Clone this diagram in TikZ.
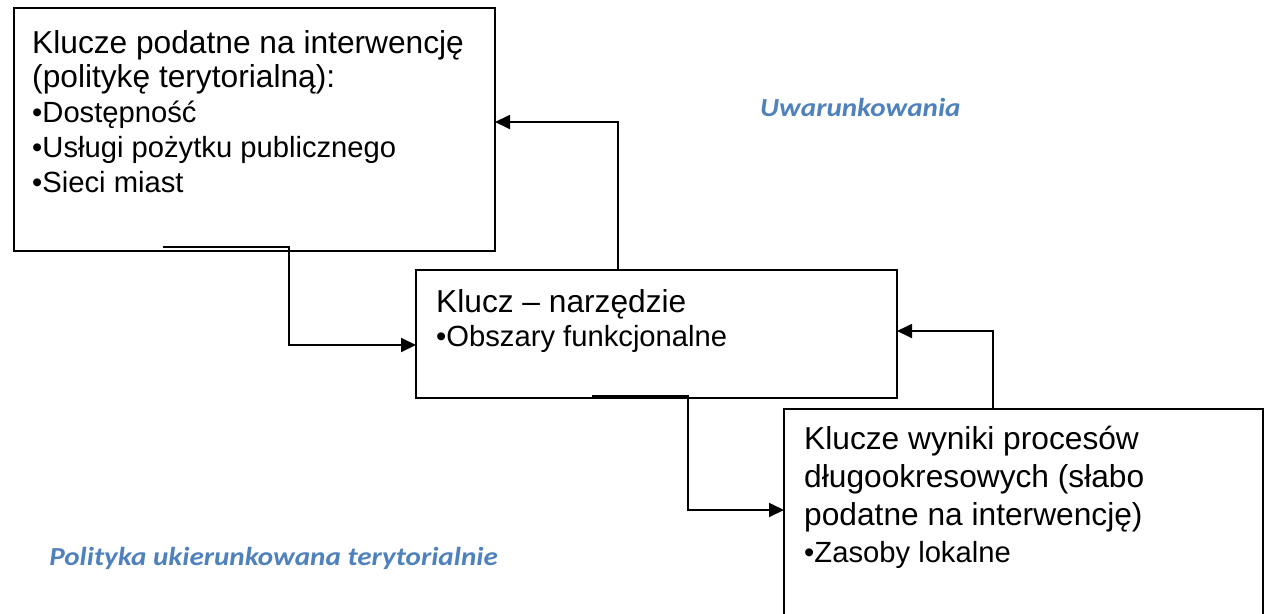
\documentclass[tikz,border=0pt]{standalone}
\usepackage{fontspec}
\setmainfont{Liberation Sans}
\newfontfamily\calib[FakeStretch=1.12]{Carlito}
\usetikzlibrary{arrows.meta}
\definecolor{lblblue}{HTML}{4F81BD}
\begin{document}
\begin{tikzpicture}[x=1pt,y=-1pt,
  box/.style={draw, line width=1.8pt, inner sep=0pt, outer sep=0pt, anchor=north west},
  conn/.style={line width=1.8pt, -{Triangle[length=15pt,width=14pt]}},
  ttl/.style={anchor=base west, inner sep=0pt, font=\fontsize{31.7}{36}\selectfont},
  bul/.style={anchor=base west, inner sep=0pt, font=\fontsize{29.2}{34}\selectfont},
  lbl/.style={inner sep=0pt, text=lblblue, font=\calib\bfseries\itshape\fontsize{26}{30}\selectfont}]
\clip (0,0) rectangle (1265,613);
\fill[white] (0,0) rectangle (1265,613);
% boxes
\node[box, minimum width=481pt, minimum height=243pt] (b1) at (14,8) {};
\node[box, minimum width=481pt, minimum height=128pt] (b2) at (416,270) {};
\node[box, minimum width=479pt, minimum height=225pt] (b3) at (784,409) {};
% texts box 1
\node[ttl] (t1a) at (32,53) {Klucze podatne na interwencję};
\node[ttl] (t1b) at (32,87) {(politykę terytorialną):};
\node[bul] (t1c) at (32,122) {•Dostępność};
\node[bul] (t1d) at (32,157) {•Usługi pożytku publicznego};
\node[bul] (t1e) at (32,192) {•Sieci miast};
% texts box 2
\node[ttl] (t2a) at (436,312) {Klucz – narzędzie};
\node[bul] (t2b) at (436,346) {•Obszary funkcjonalne};
% texts box 3
\node[ttl] (t3a) at (804,449) {Klucze wyniki procesów};
\node[ttl] (t3b) at (804,487) {długookresowych (słabo};
\node[ttl] (t3c) at (804,525) {podatne na interwencję)};
\node[bul] (t3d) at (804,562) {•Zasoby lokalne};
% labels
\node[lbl, anchor=base west] (u) at (760,116) {Uwarunkowania};
\node[lbl, anchor=base east] (p) at (498,565) {Polityka ukierunkowana terytorialnie};
% connectors
\coordinate (s1) at (163,247); \coordinate (k1) at (289,345);
\draw[conn] (s1) -- (s1 -| k1) -- (k1) -- (k1 -| b2.west);
\coordinate (s2) at (740,270); \coordinate (k2) at (618,122);
\draw[conn] (s2) -- (s2 -| k2) -- (k2) -- (k2 -| b1.east);
\coordinate (s3) at (592,396); \coordinate (k3) at (688,510);
\draw[conn] (s3) -- (s3 -| k3) -- (k3) -- (k3 -| b3.west);
\coordinate (s4) at (1090,409); \coordinate (k4) at (993,331);
\draw[conn] (s4) -- (s4 -| k4) -- (k4) -- (k4 -| b2.east);
\end{tikzpicture}
\end{document}
